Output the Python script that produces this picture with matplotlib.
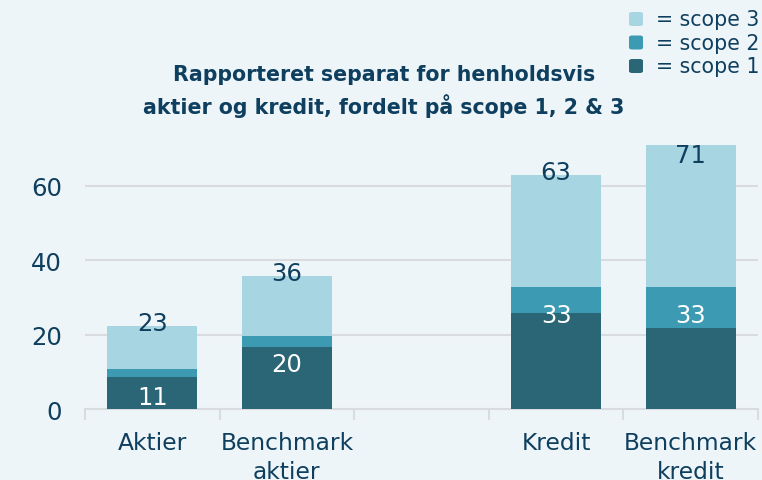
import numpy as np
import matplotlib
matplotlib.use("Agg")
import matplotlib.pyplot as plt
from matplotlib.patches import FancyBboxPatch

categories = ["Aktier", "Benchmark\naktier", "", "Kredit", "Benchmark\nkredit"]
scope1 = [8.7, 16.8, 0, 25.8, 21.7]
scope2 = [2.1, 2.9, 0, 7.0, 11.1]
scope3 = [11.6, 16.1, 0, 30.2, 38.2]
mid_labels = ["11", "20", "", "33", "33"]
top_labels = ["23", "36", "", "63", "71"]
legend_labels = ["= scope 3", "= scope 2", "= scope 1"]

navy = "#0e3f5e"
c1, c2, c3 = "#2a6675", "#3c9ab2", "#a8d5e2"
bg = "#eef5f9"
grid = "#d8dcdf"

plt.rcParams['font.family'] = ['DejaVu Sans']

W, H = 762, 481
fig = plt.figure(figsize=(W / 100, H / 100), dpi=100, facecolor=bg)
ax = fig.add_axes([85 / W, 1 - 410 / H, (758 - 85) / W, (410 - 146) / H])
ax.set_facecolor(bg)

x = np.arange(len(categories))
s1 = np.array(scope1)
s2 = np.array(scope2)
s3 = np.array(scope3)
w = 0.667
ax.bar(x, s1, w, color=c1, zorder=3)
ax.bar(x, s2, w, bottom=s1, color=c2, zorder=3)
ax.bar(x, s3, w, bottom=s1 + s2, color=c3, zorder=3)

ax.set_xlim(-0.5, 4.5)
ax.set_ylim(0, 71)
ax.set_yticks([0, 20, 40, 60])
ax.set_yticklabels(["0", "20", "40", "60"])
ax.yaxis.grid(True, color=grid, linewidth=1.5, zorder=0)
ax.set_axisbelow(True)
ax.tick_params(axis="y", length=0, pad=16.5, labelsize=17.5, labelcolor=navy)

ax.set_xticks(x)
ax.set_xticklabels(categories, linespacing=1.3)
ax.tick_params(axis="x", length=0, pad=16, labelsize=16.8, labelcolor=navy)
ax.set_xticks(np.arange(-0.5, 5, 1), minor=True)
ax.tick_params(axis="x", which="minor", length=8, width=1.5, color=grid)

for side in ["top", "right", "left"]:
    ax.spines[side].set_visible(False)
ax.spines["bottom"].set_color(grid)
ax.spines["bottom"].set_linewidth(1.5)

for i in range(len(categories)):
    if not mid_labels[i]:
        continue
    v = s1[i] + s2[i]
    ax.annotate(mid_labels[i], (x[i], v), xytext=(0, -20), textcoords="offset points",
                ha="center", va="center", fontsize=17.5, color="white", zorder=5)
    t = s1[i] + s2[i] + s3[i]
    ty = min(t + 0.8, 68.3)
    ax.text(x[i], ty, top_labels[i], ha="center", va="center",
            fontsize=17.5, color=navy, zorder=5)

fig.text(384 / W, 1 - 91.5 / H,
         "Rapporteret separat for henholdsvis\naktier og kredit, fordelt på scope 1, 2 & 3",
         ha="center", va="center", fontsize=14.8, fontweight="bold", color=navy,
         linespacing=1.45)

legend_colors = [c3, c2, c1]
for k, (lab, col) in enumerate(zip(legend_labels, legend_colors)):
    yc = 20 + 23.5 * k
    sq = FancyBboxPatch((629 / W, 1 - (yc + 7) / H), 14 / W, 14 / H,
                        boxstyle="round,pad=0,rounding_size=0.004",
                        transform=fig.transFigure, facecolor=col, edgecolor="none")
    fig.patches.append(sq)
    fig.text(656 / W, 1 - yc / H, lab, ha="left", va="center",
             fontsize=14.8, color=navy)

fig.savefig("out.png", dpi=100, facecolor=bg)
